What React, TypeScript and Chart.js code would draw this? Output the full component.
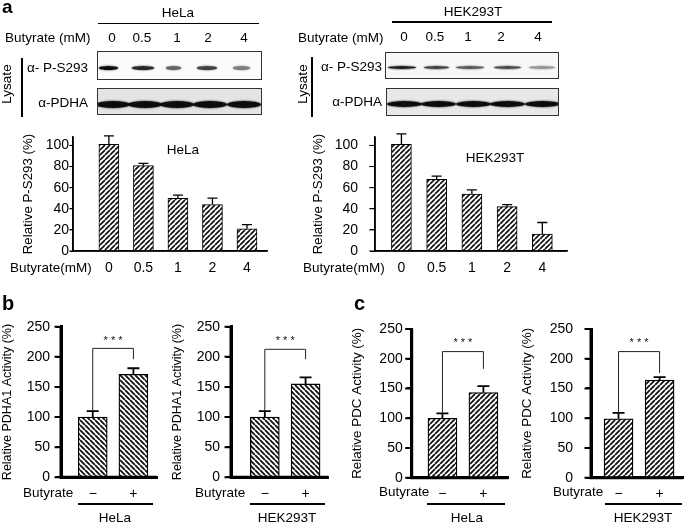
import React, { useEffect, useRef } from 'react';
import { Chart, registerables } from 'chart.js';

Chart.register(...registerables);
Chart.defaults.font.family = '"Liberation Sans", Arial, sans-serif';
Chart.defaults.color = '#000';

// ---------- data ----------
const doseLabels = ['0', '0.5', '1', '2', '4'];
const helaPS293 = [101, 81, 50, 44, 21];
const helaPS293Err = [8, 2, 3, 6, 4];
const hekPS293 = [101, 68, 54, 42, 16];
const hekPS293Err = [10, 3, 4, 2, 11];
const psTicks = [0, 20, 40, 60, 80, 100];

const butyrateLabels = ['\u2212', '+'];
const helaPDHA1 = [100, 171];
const helaPDHA1Err = [10, 10];
const hekPDHA1 = [100, 155];
const hekPDHA1Err = [10, 11];
const helaPDC = [100, 143];
const helaPDCErr = [8, 11];
const hekPDC = [99, 164];
const hekPDCErr = [10, 5];
const activityTicks = [0, 50, 100, 150, 200, 250];

// blot band intensities per lane
const helaPSBand = [0.95, 0.85, 0.6, 0.75, 0.5];
const hekPSBand = [0.9, 0.75, 0.65, 0.7, 0.4];
const helaPDHABand = [0.95, 0.95, 0.95, 0.95, 0.95];
const hekPDHABand = [0.95, 0.95, 0.95, 0.95, 0.95];

const FONT = '"Liberation Sans", Arial, sans-serif';

type Bracket = { level: number; rightEnd: number; stars: number };
type Spec = {
  left: number;
  width: number;
  bottom: number;
  area: [number, number, number, number];
  labels: string[];
  values: number[];
  errors: number[];
  xRange: [number, number];
  yMax: number;
  yTicks: number[];
  barWidth: number;
  hatchDir: 1 | -1;
  hatchSize: number;
  hatchLine: number;
  axisWidth: number;
  barBorder: number;
  errWidth: number;
  capWidth: number;
  title: string;
  titleSize: number;
  titleCenter: number;
  tickLen: number;
  tickPad: number;
  xPad: number;
  tickFont: number;
  bracket?: Bracket;
};

function makeHatch(ctx: CanvasRenderingContext2D, dir: 1 | -1, size: number, lw: number) {
  const c = document.createElement('canvas');
  c.width = size;
  c.height = size;
  const g = c.getContext('2d')!;
  g.fillStyle = '#fff';
  g.fillRect(0, 0, size, size);
  g.strokeStyle = '#111';
  g.lineWidth = lw;
  g.beginPath();
  for (const o of [-size, 0, size]) {
    if (dir === 1) {
      g.moveTo(o, size);
      g.lineTo(o + size, 0);
    } else {
      g.moveTo(o, 0);
      g.lineTo(o + size, size);
    }
  }
  g.stroke();
  return ctx.createPattern(c, 'repeat')!;
}

function BarPanel({ spec }: { spec: Spec }) {
  const ref = useRef<HTMLCanvasElement>(null);
  const [l, t, r, b] = spec.area;
  const L = spec.left;
  const W = spec.width;
  const T = Math.floor(t - (spec.tickFont * 0.6 + spec.tickPad) - 2);
  const H = spec.bottom - T;
  useEffect(() => {
    const canvas = ref.current!;
    const ctx = canvas.getContext('2d')!;
    const pattern = makeHatch(ctx, spec.hatchDir, spec.hatchSize, spec.hatchLine);
    const titlePad = Math.max(0, spec.titleCenter - L - spec.titleSize * 0.6);
    const markPlugin = {
      id: 'marks',
      afterDraw(chart: any) {
        const c = chart.ctx as CanvasRenderingContext2D;
        const xs = chart.scales.x;
        const ys = chart.scales.y;
        const ca = chart.chartArea;
        c.save();
        c.globalCompositeOperation = 'source-over';
        c.globalAlpha = 1;
        c.setLineDash([]);
        c.strokeStyle = '#000';
        c.lineWidth = spec.axisWidth;
        c.beginPath();
        c.moveTo(ca.left, ca.top);
        c.lineTo(ca.left, ca.bottom + spec.axisWidth / 2);
        c.moveTo(ca.left - spec.axisWidth / 2, ca.bottom);
        c.lineTo(ca.right, ca.bottom);
        c.stroke();
        if (spec.tickLen > 0) {
          c.lineWidth = spec.axisWidth > 2 ? 2 : 1;
          c.beginPath();
          ys.ticks.forEach((tk: any) => {
            const py = ys.getPixelForValue(tk.value);
            c.moveTo(ca.left - spec.axisWidth / 2, py);
            c.lineTo(ca.left - spec.axisWidth / 2 - spec.tickLen, py);
          });
          c.stroke();
        }
        c.lineWidth = spec.errWidth;
        spec.values.forEach((v, i) => {
          const px = xs.getPixelForValue(i);
          const base = ys.getPixelForValue(v);
          const top = ys.getPixelForValue(v + spec.errors[i]);
          c.beginPath();
          c.moveTo(px, base);
          c.lineTo(px, top);
          c.moveTo(px - spec.capWidth / 2, top);
          c.lineTo(px + spec.capWidth / 2, top);
          c.stroke();
        });
        const br = spec.bracket;
        if (br) {
          const x0 = xs.getPixelForValue(0);
          const x1 = xs.getPixelForValue(1);
          const yL = ys.getPixelForValue(spec.values[0] + spec.errors[0]);
          const yB = ys.getPixelForValue(br.level);
          const yR = ys.getPixelForValue(br.rightEnd);
          c.strokeStyle = '#222';
          c.lineWidth = 1;
          c.beginPath();
          c.moveTo(x0, yL);
          c.lineTo(x0, yB);
          c.lineTo(x1, yB);
          c.lineTo(x1, yR);
          c.stroke();
          c.fillStyle = '#111';
          c.font = `11px ${FONT}`;
          c.textAlign = 'center';
          c.textBaseline = 'middle';
          c.fillText('* * *', (x0 + x1) / 2, ys.getPixelForValue(br.stars));
        }
        c.restore();
      },
    };
    const chart = new Chart(canvas, {
      type: 'bar',
      data: {
        datasets: [
          {
            data: spec.values.map((v, i) => ({ x: i, y: v })) as any,
            backgroundColor: pattern as any,
            borderColor: '#000',
            borderWidth: spec.barBorder,
            barThickness: spec.barWidth,
          },
        ],
      },
      options: {
        responsive: false,
        maintainAspectRatio: false,
        animation: false,
        layout: { padding: { left: 0, top: t - T, right: L + W - r, bottom: 0 } },
        plugins: { legend: { display: false }, tooltip: { enabled: false } },
        scales: {
          x: {
            type: 'linear',
            offset: false,
            min: spec.xRange[0],
            max: spec.xRange[1],
            grid: { display: false, drawTicks: false, offset: false },
            border: { display: true, color: '#000', width: spec.axisWidth },
            ticks: {
              autoSkip: false,
              maxRotation: 0,
              padding: spec.xPad,
              font: { size: spec.tickFont },
              callback: (v: any) => spec.labels[v as number] ?? '',
            },
            afterBuildTicks: (s: any) => {
              s.ticks = spec.labels.map((_, i) => ({ value: i }));
            },
            afterFit: (s: any) => {
              s.height = T + H - b;
            },
          },
          y: {
            min: 0,
            max: spec.yMax,
            grid: {
              display: true,
              drawOnChartArea: false,
              drawTicks: spec.tickLen > 0,
              tickLength: spec.tickLen,
              color: '#000',
              lineWidth: spec.axisWidth > 2 ? 2 : 1,
            },
            border: { display: true, color: '#000', width: spec.axisWidth },
            ticks: { padding: spec.tickPad, font: { size: spec.tickFont } },
            title: {
              display: true,
              text: spec.title,
              font: { size: spec.titleSize },
              padding: { top: titlePad, bottom: 0 },
            },
            afterBuildTicks: (s: any) => {
              s.ticks = spec.yTicks.map((v) => ({ value: v }));
            },
            afterFit: (s: any) => {
              s.width = l - L;
            },
          },
        },
      } as any,
      plugins: [markPlugin],
    });
    return () => chart.destroy();
  }, []);
  return (
    <canvas
      ref={ref}
      width={W}
      height={H}
      style={{ position: 'absolute', left: L, top: T, width: W, height: H, zIndex: 5, display: 'block' }}
    />
  );
}

function Txt({
  x,
  y,
  children,
  size = 13.5,
  anchor = 'left',
  weight = 400,
}: {
  x: number;
  y: number;
  children: React.ReactNode;
  size?: number;
  anchor?: 'left' | 'center' | 'right';
  weight?: number;
}) {
  const tx = anchor === 'center' ? '-50%' : anchor === 'right' ? '-100%' : '0';
  return (
    <div
      style={{
        position: 'absolute',
        left: x,
        top: y,
        transform: `translate(${tx}, -50%)`,
        fontSize: size,
        fontWeight: weight,
        lineHeight: 1,
        whiteSpace: 'nowrap',
      }}
    >
      {children}
    </div>
  );
}

function HLine({ x1, x2, y, w = 1.2 }: { x1: number; x2: number; y: number; w?: number }) {
  return <div style={{ position: 'absolute', left: x1, top: y - w / 2, width: x2 - x1, height: w, background: '#000' }} />;
}
function VLine({ x, y1, y2, w = 1.2 }: { x: number; y1: number; y2: number; w?: number }) {
  return <div style={{ position: 'absolute', left: x - w / 2, top: y1, width: w, height: y2 - y1, background: '#000' }} />;
}

function Rotated({ x, y, children, size = 13.5 }: { x: number; y: number; children: React.ReactNode; size?: number }) {
  return (
    <div
      style={{
        position: 'absolute',
        left: x,
        top: y,
        transform: 'translate(-50%, -50%) rotate(-90deg)',
        fontSize: size,
        lineHeight: 1,
        whiteSpace: 'nowrap',
      }}
    >
      {children}
    </div>
  );
}

function Blot({
  x,
  y,
  w,
  h,
  bandY,
  centers,
  widths,
  intens,
  thick,
  bg,
}: {
  x: number;
  y: number;
  w: number;
  h: number;
  bandY: number;
  centers: number[];
  widths: number[];
  intens: number[];
  thick: number;
  bg: string;
}) {
  return (
    <div
      style={{
        position: 'absolute',
        left: x,
        top: y,
        width: w,
        height: h,
        boxSizing: 'border-box',
        border: '1px solid #333',
        background: bg,
        overflow: 'hidden',
      }}
    >
      {centers.map((c, i) => (
        <div
          key={i}
          style={{
            position: 'absolute',
            left: c - x - widths[i] / 2,
            top: bandY - thick / 2,
            width: widths[i],
            height: thick,
            borderRadius: '50%',
            background: `rgba(0,0,0,${intens[i]})`,
            boxShadow: `0 0 1.5px 0.5px rgba(0,0,0,${intens[i] * 0.6})`,
          }}
        />
      ))}
    </div>
  );
}

const aBase = {
  labels: doseLabels,
  yMax: 108,
  yTicks: psTicks,
  barWidth: 20,
  hatchDir: 1 as const,
  hatchSize: 5,
  hatchLine: 1.7,
  axisWidth: 1.5,
  barBorder: 1,
  errWidth: 1.3,
  capWidth: 10,
  title: 'Relative P-S293 (%)',
  titleSize: 13.3,
  xPad: 9,
  tickFont: 14,
  bottom: 278,
};

const specALeft: Spec = {
  ...aBase,
  left: 10,
  width: 262,
  area: [73, 137, 267, 251],
  values: helaPS293,
  errors: helaPS293Err,
  xRange: [-1.04, 4.58],
  titleCenter: 28,
  tickLen: 3,
  tickPad: 1,
};
const specARight: Spec = {
  ...aBase,
  left: 300,
  width: 272,
  area: [375, 137, 567, 251],
  values: hekPS293,
  errors: hekPS293Err,
  xRange: [-0.75, 4.7],
  titleCenter: 318,
  tickLen: 5,
  tickPad: 12,
};

const bcBase = {
  labels: butyrateLabels,
  yMax: 250,
  yTicks: activityTicks,
  barWidth: 29,
  hatchSize: 5,
  hatchLine: 1.8,
  axisWidth: 3,
  barBorder: 1.3,
  errWidth: 1.8,
  capWidth: 12,
  xPad: 8,
  tickFont: 14,
  tickLen: 5,
  bottom: 501,
};

const specB1: Spec = {
  ...bcBase,
  hatchDir: -1,
  left: 0,
  width: 162,
  area: [61, 326.7, 157, 477.3],
  values: helaPDHA1,
  errors: helaPDHA1Err,
  xRange: [-0.78, 1.58],
  title: 'Relative PDHA1 Activity (%)',
  titleSize: 12.5,
  titleCenter: 7.5,
  tickPad: 6,
  bracket: { level: 214, rightEnd: 196, stars: 227 },
};
const specB2: Spec = {
  ...bcBase,
  hatchDir: -1,
  left: 170,
  width: 163,
  area: [231, 326.7, 328, 477.3],
  values: hekPDHA1,
  errors: hekPDHA1Err,
  xRange: [-0.83, 1.55],
  title: 'Relative PDHA1 Activity (%)',
  titleSize: 12.5,
  titleCenter: 178,
  tickPad: 6,
  bracket: { level: 212.5, rightEnd: 196, stars: 226 },
};
const specC1: Spec = {
  ...bcBase,
  hatchDir: 1,
  left: 345,
  width: 168,
  area: [411.7, 329, 508, 477.7],
  values: helaPDC,
  errors: helaPDCErr,
  xRange: [-0.75, 1.6],
  title: 'Relative PDC Activity (%)',
  titleSize: 13.4,
  titleCenter: 357,
  tickPad: 4,
  bracket: { level: 212, rightEnd: 183, stars: 226 },
};
const specC2: Spec = {
  ...bcBase,
  hatchDir: 1,
  left: 515,
  width: 170,
  area: [591, 329, 683, 477.7],
  values: hekPDC,
  errors: hekPDCErr,
  xRange: [-0.67, 1.57],
  title: 'Relative PDC Activity (%)',
  titleSize: 13.4,
  titleCenter: 527,
  tickPad: 13,
  bracket: { level: 212, rightEnd: 176, stars: 226 },
};

export default function App() {
  const helaLane = [112, 142, 177, 208, 244];
  const hekLane = [404, 435, 468, 501, 538];
  return (
    <div
      style={{
        position: 'fixed',
        left: 0,
        top: 0,
        width: 685,
        height: 525,
        background: '#fff',
        color: '#000',
        fontFamily: FONT,
      }}
    >
      {/* panel letters */}
      <Txt x={2} y={6} size={19} weight={700}>a</Txt>
      <Txt x={2} y={303} size={20} weight={700}>b</Txt>
      <Txt x={354} y={303} size={20} weight={700}>c</Txt>

      {/* HeLa blot */}
      <Txt x={178} y={12.5} anchor="center">HeLa</Txt>
      <HLine x1={98} x2={259} y={23.5} />
      <Txt x={5} y={38}>Butyrate (mM)</Txt>
      {doseLabels.map((d, i) => (
        <Txt key={'hl' + i} x={helaLane[i]} y={38} anchor="center">{d}</Txt>
      ))}
      <Rotated x={7} y={84}>Lysate</Rotated>
      <VLine x={22} y1={58} y2={117} w={1.5} />
      <Txt x={88} y={68} anchor="right">α- P-S293</Txt>
      <Txt x={88} y={103} anchor="right">α-PDHA</Txt>
      <Blot x={97} y={51} w={165} h={29} bandY={16} centers={[107, 142, 172, 206, 240]} widths={[19, 22, 15, 20, 17]} intens={helaPSBand} thick={3.5} bg="#fbfbfb" />
      <Blot x={97} y={88} w={165} h={27} bandY={15} centers={[112, 144, 176, 209, 243]} widths={[34, 34, 34, 34, 34]} intens={helaPDHABand} thick={7} bg="#e4e4e4" />

      {/* HEK blot */}
      <Txt x={473} y={12} anchor="center">HEK293T</Txt>
      <HLine x1={392} x2={552} y={22} />
      <Txt x={298} y={38}>Butyrate (mM)</Txt>
      {doseLabels.map((d, i) => (
        <Txt key={'hk' + i} x={hekLane[i]} y={37} anchor="center">{d}</Txt>
      ))}
      <Rotated x={303} y={84}>Lysate</Rotated>
      <VLine x={312} y1={57} y2={117} w={1.5} />
      <Txt x={382} y={67} anchor="right">α- P-S293</Txt>
      <Txt x={382} y={102} anchor="right">α-PDHA</Txt>
      <Blot x={385} y={52} w={174} h={27} bandY={14} centers={[401, 435, 469, 506, 541]} widths={[28, 25, 28, 27, 26]} intens={hekPSBand} thick={3} bg="#f8f8f8" />
      <Blot x={386} y={88} w={173} h={28} bandY={15} centers={[403, 437, 472, 506, 541]} widths={[35, 35, 35, 35, 35]} intens={hekPDHABand} thick={6} bg="#e8e8e8" />

      {/* chart text */}
      <Txt x={183} y={150} anchor="center">HeLa</Txt>
      <Txt x={495} y={158} anchor="center">HEK293T</Txt>
      <Txt x={10} y={268}>Butyrate(mM)</Txt>
      <Txt x={303} y={268}>Butyrate(mM)</Txt>

      <Txt x={23} y={493}>Butyrate</Txt>
      <HLine x1={78} x2={153} y={504} />
      <Txt x={115} y={518} anchor="center">HeLa</Txt>
      <Txt x={195} y={493}>Butyrate</Txt>
      <HLine x1={250} x2={325} y={504} />
      <Txt x={287} y={518} anchor="center">HEK293T</Txt>

      <Txt x={379} y={492}>Butyrate</Txt>
      <HLine x1={427} x2={505} y={504} />
      <Txt x={467} y={518} anchor="center">HeLa</Txt>
      <Txt x={553} y={492}>Butyrate</Txt>
      <HLine x1={605} x2={682} y={504} />
      <Txt x={643} y={518} anchor="center">HEK293T</Txt>

      {/* charts last */}
      <BarPanel spec={specALeft} />
      <BarPanel spec={specARight} />
      <BarPanel spec={specB1} />
      <BarPanel spec={specB2} />
      <BarPanel spec={specC1} />
      <BarPanel spec={specC2} />
    </div>
  );
}
